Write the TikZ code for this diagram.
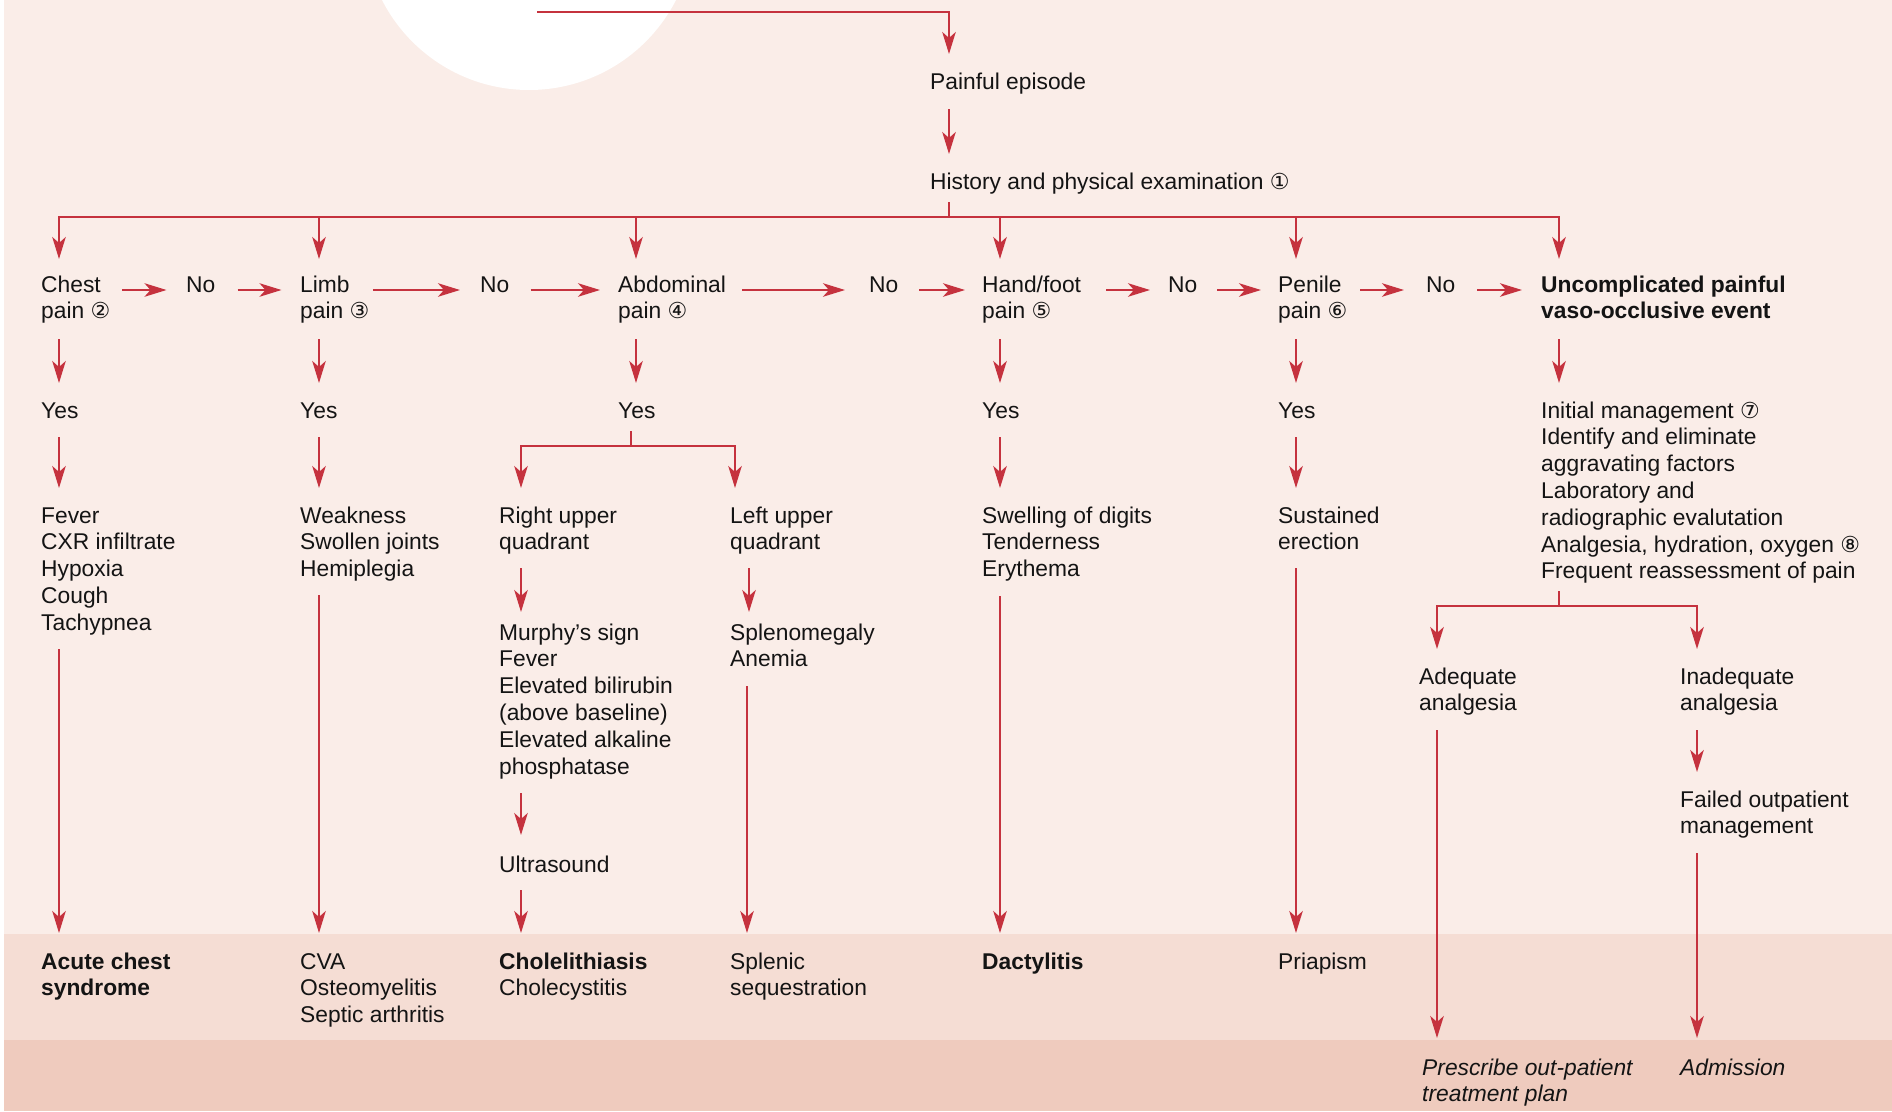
\documentclass[tikz,border=0pt]{standalone}
\usepackage{fontspec}
\setmainfont{Liberation Sans}
\newfontfamily\circfont{DejaVu Sans}
\usetikzlibrary{arrows.meta,calc}

\definecolor{bgtop}{RGB}{250,237,232}
\definecolor{bgmid}{RGB}{245,221,212}
\definecolor{bgbot}{RGB}{239,203,190}
\definecolor{arrowred}{RGB}{197,50,62}
\definecolor{ink}{RGB}{20,20,20}

\newcommand\diagfont{\fontsize{22.8}{26.8}\selectfont}
\newcommand\cnum[1]{{\circfont\fontsize{22}{22}\selectfont #1}}
% stacked lines whose reference point is the baseline of the first line
\newcommand\ml[1]{\vtop{\let\\\cr\halign{##\hfil\cr#1\crcr}}}

\tikzset{
  txt/.style={anchor=base west, inner sep=0pt, font=\diagfont, text=ink},
  ln/.style={draw=arrowred, line width=2pt},
  arr/.style={ln, -{Stealth[length=22pt,width=13.5pt,inset=6pt]}},
}

\begin{document}
\begin{tikzpicture}[x=1pt,y=-1pt]
% page and the three background bands
\useasboundingbox (0,0) rectangle (1892,1111);
\fill[white] (0,0) rectangle (1892,1111);
\fill[bgtop] (4,0) rectangle (1892,934);
\fill[bgmid] (4,934) rectangle (1892,1040);
\fill[bgbot] (4,1040) rectangle (1892,1111);
\fill[white] (529,-75) circle[radius=165pt];

% top of the chart
\coordinate (src) at (537,12);
\node[txt] (pe) at (930,89) {Painful episode};
\node[txt] (hx) at (930,189) {History and physical examination \cnum{①}};

% row of presenting complaints
\node[txt] (chest) at (41,292) {\ml{Chest\\pain \cnum{②}}};
\node[txt] (no1) at (186,292) {No};
\node[txt] (limb) at (300,292) {\ml{Limb\\pain \cnum{③}}};
\node[txt] (no2) at (480,292) {No};
\node[txt] (abd) at (618,292) {\ml{Abdominal\\pain \cnum{④}}};
\node[txt] (no3) at (869,292) {No};
\node[txt] (hand) at (982,292) {\ml{Hand/foot\\pain \cnum{⑤}}};
\node[txt] (no4) at (1168,292) {No};
\node[txt] (pen) at (1278,292) {\ml{Penile\\pain \cnum{⑥}}};
\node[txt] (no5) at (1426,292) {No};
\node[txt,font=\diagfont\bfseries] (unc) at (1541,292) {\ml{Uncomplicated painful\\vaso-occlusive event}};

% yes answers
\node[txt] (yes1) at (41,418) {Yes};
\node[txt] (yes2) at (300,418) {Yes};
\node[txt] (yes3) at (618,418) {Yes};
\node[txt] (yes4) at (982,418) {Yes};
\node[txt] (yes5) at (1278,418) {Yes};
\node[txt] (im) at (1541,418) {\ml{Initial management \cnum{⑦}\\Identify and eliminate\\aggravating factors\\Laboratory and\\radiographic evalutation\\Analgesia, hydration, oxygen \cnum{⑧}\\Frequent reassessment of pain}};

% findings
\node[txt] (fev) at (41,523) {\ml{Fever\\CXR infiltrate\\Hypoxia\\Cough\\Tachypnea}};
\node[txt] (weak) at (300,523) {\ml{Weakness\\Swollen joints\\Hemiplegia}};
\node[txt] (ruq) at (499,523) {\ml{Right upper\\quadrant}};
\node[txt] (luq) at (730,523) {\ml{Left upper\\quadrant}};
\node[txt] (swell) at (982,523) {\ml{Swelling of digits\\Tenderness\\Erythema}};
\node[txt] (sust) at (1278,523) {\ml{Sustained\\erection}};
\node[txt] (mur) at (499,640) {\ml{Murphy’s sign\\Fever\\Elevated bilirubin\\(above baseline)\\Elevated alkaline\\phosphatase}};
\node[txt] (spl) at (730,640) {\ml{Splenomegaly\\Anemia}};
\node[txt] (us) at (499,872) {Ultrasound};
\node[txt] (adeq) at (1419,684) {\ml{Adequate\\analgesia}};
\node[txt] (inad) at (1680,684) {\ml{Inadequate\\analgesia}};
\node[txt] (fail) at (1680,807) {\ml{Failed outpatient\\management}};

% diagnoses and outcomes
\node[txt,font=\diagfont\bfseries] (acs) at (41,969) {\ml{Acute chest\\syndrome}};
\node[txt] (cva) at (300,969) {\ml{CVA\\Osteomyelitis\\Septic arthritis}};
\node[txt] (chole) at (499,969) {\ml{\textbf{Cholelithiasis}\\Cholecystitis}};
\node[txt] (splseq) at (730,969) {\ml{Splenic\\sequestration}};
\node[txt,font=\diagfont\bfseries] (dact) at (982,969) {Dactylitis};
\node[txt] (pri) at (1278,969) {Priapism};
\node[txt,font=\diagfont\itshape] (presc) at (1422,1075) {\ml{Prescribe out-patient\\treatment plan}};
\node[txt,font=\diagfont\itshape] (adm) at (1680,1075) {Admission};

% connectors: top
\draw[arr] (src) -| ($(pe.base west)+(19,-35)$);
\draw[arr] (pe.base west) ++(19,20) -- ++(0,45);
\draw[ln] (hx.base west) ++(19,13) -- ++(0,15) coordinate (jHX);
\foreach \n/\dx in {chest/18,limb/19,abd/18,hand/18,pen/18,unc/18}
  \draw[arr] (jHX) -| ($(\n.base west)+(\dx,-33)$);

% connectors: "No" chain
\draw[arr] (chest.base west) ++(81,-2) -- ++(44.5,0);
\draw[arr] (no1.base west) ++(51.5,-2) -- ++(44,0);
\draw[arr] (limb.base west) ++(72.8,-2) -- ++(87.2,0);
\draw[arr] (no2.base west) ++(50.5,-2) -- ++(69.5,0);
\draw[arr] (abd.base west) ++(124,-2) -- ++(103,0);
\draw[arr] (no3.base west) ++(50,-2) -- ++(46,0);
\draw[arr] (hand.base west) ++(124,-2) -- ++(44,0);
\draw[arr] (no4.base west) ++(49,-2) -- ++(44,0);
\draw[arr] (pen.base west) ++(82,-2) -- ++(44,0);
\draw[arr] (no5.base west) ++(51,-2) -- ++(45,0);

% connectors: complaint to "Yes"
\draw[arr] (chest.base west) ++(18,47) -- ++(0,44);
\draw[arr] (limb.base west) ++(19,47) -- ++(0,44);
\draw[arr] (abd.base west) ++(18,47) -- ++(0,44);
\draw[arr] (hand.base west) ++(18,47) -- ++(0,44);
\draw[arr] (pen.base west) ++(18,47) -- ++(0,44);
\draw[arr] (unc.base west) ++(18,47) -- ++(0,44);

% connectors: "Yes" to findings
\draw[arr] (yes1.base west) ++(18,19) -- ++(0,51);
\draw[arr] (yes2.base west) ++(19,19) -- ++(0,51);
\draw[arr] (yes4.base west) ++(18,19) -- ++(0,51);
\draw[arr] (yes5.base west) ++(18,19) -- ++(0,51);
\draw[ln] (yes3.base west) ++(13,13) -- ++(0,15) coordinate (jAB);
\draw[arr] (jAB) -| ($(ruq.base west)+(22,-35)$);
\draw[arr] (jAB) -| ($(luq.base west)+(5,-35)$);

% abdominal branch
\draw[arr] (ruq.base west) ++(22,45) -- ++(0,44);
\draw[arr] (luq.base west) ++(19,45) -- ++(0,44);
\draw[arr] (mur.base west) ++(22,153) -- ++(0,42);
\draw[arr] (us.base west) ++(22,18) -- ++(0,43);
\draw[arr] (spl.base west) ++(17,46) -- ++(0,247);

% findings to diagnoses
\draw[arr] (fev.base west) ++(18,126) -- ++(0,284);
\draw[arr] (weak.base west) ++(19,72) -- ++(0,338);
\draw[arr] (swell.base west) ++(18,73) -- ++(0,337);
\draw[arr] (sust.base west) ++(18,45) -- ++(0,365);

% uncomplicated event management
\draw[ln] (im.base west) ++(18,173) -- ++(0,15) coordinate (jIM);
\draw[arr] (jIM) -| ($(adeq.base west)+(18,-35)$);
\draw[arr] (jIM) -| ($(inad.base west)+(17,-35)$);
\draw[arr] (adeq.base west) ++(18,46) -- ++(0,308);
\draw[arr] (inad.base west) ++(17,46) -- ++(0,42);
\draw[arr] (fail.base west) ++(17,46) -- ++(0,185);
\end{tikzpicture}
\end{document}
